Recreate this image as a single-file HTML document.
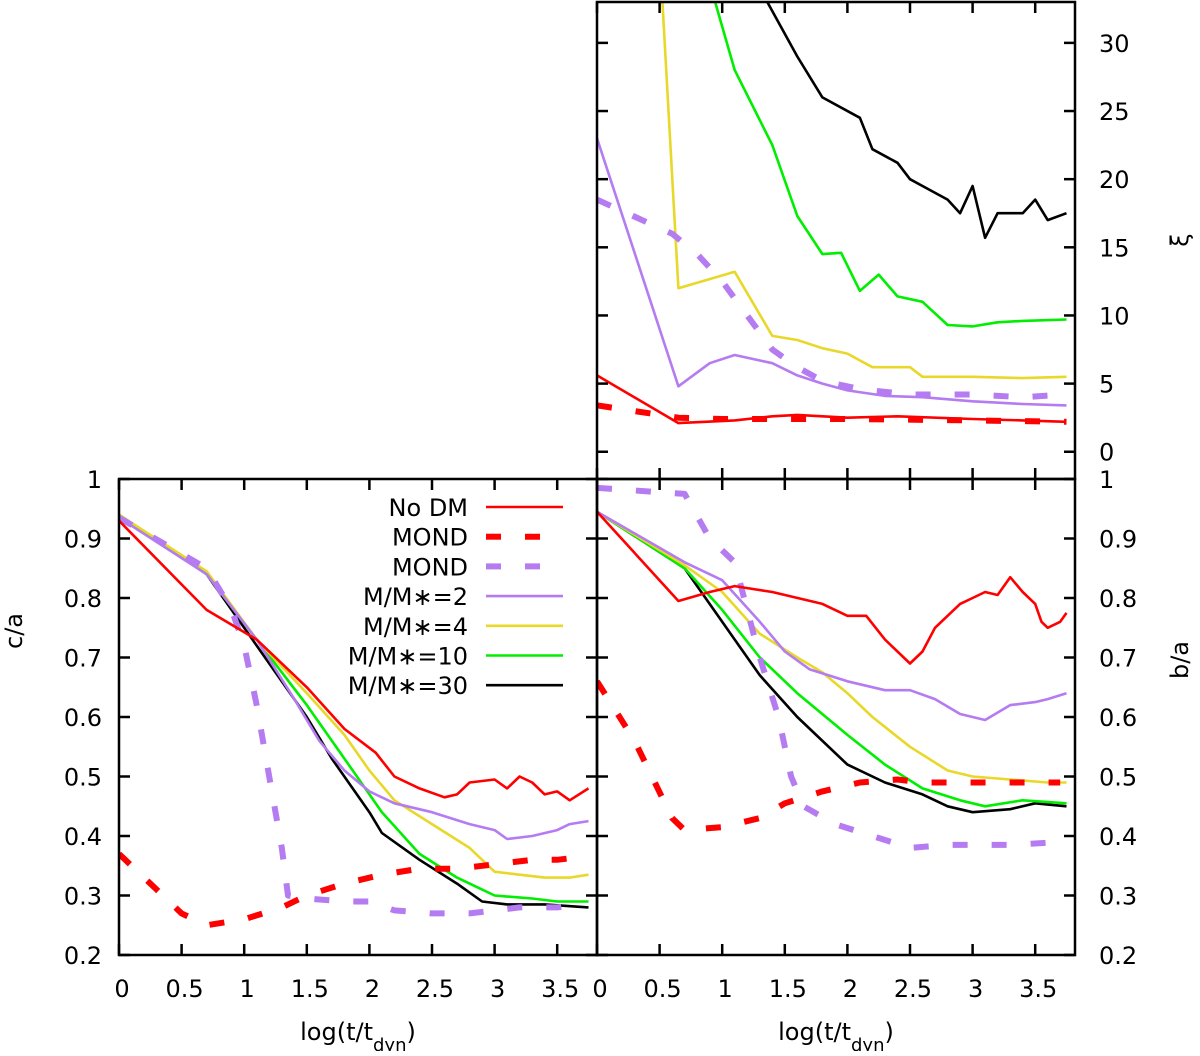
<!DOCTYPE html>
<html><head><meta charset="utf-8"><style>
body{margin:0;background:#fff}
svg text{font-family:"DejaVu Sans","Liberation Sans",sans-serif;font-size:24px;fill:#000}
</style></head><body>
<svg id="c" width="1200" height="1051" viewBox="0 0 1200 1051" xmlns="http://www.w3.org/2000/svg"></svg>
<script>
const xTicks=[0,0.5,1,1.5,2,2.5,3,3.5];
const xTickLabels=["0","0.5","1","1.5","2","2.5","3","3.5"];
const ratioTicks=[0.2,0.3,0.4,0.5,0.6,0.7,0.8,0.9,1];
const ratioTickLabels=["0.2","0.3","0.4","0.5","0.6","0.7","0.8","0.9","1"];
const xiTicks=[0,5,10,15,20,25,30];
const xiTickLabels=["0","5","10","15","20","25","30"];
const seriesNames=["No DM","MOND","MOND","M/M\u2217=2","M/M\u2217=4","M/M\u2217=10","M/M\u2217=30"];
// c/a panel
const caNoDMx=[0,0.7,1.1,1.5,1.8,2.05,2.2,2.4,2.6,2.7,2.8,3.0,3.1,3.2,3.3,3.4,3.5,3.6,3.75];
const caNoDMy=[0.93,0.78,0.73,0.65,0.58,0.54,0.5,0.48,0.465,0.47,0.49,0.495,0.48,0.5,0.49,0.47,0.475,0.46,0.48];
const caMONDx=[0,0.3,0.5,0.7,1.0,1.3,1.5,1.8,2.1,2.4,2.7,2.9,3.1,3.3,3.5,3.7];
const caMONDy=[0.37,0.31,0.27,0.25,0.26,0.28,0.3,0.32,0.335,0.345,0.345,0.35,0.355,0.36,0.36,0.365];
const caMONDPx=[0,0.7,0.9,1.0,1.1,1.2,1.3,1.35,1.5,1.8,2.0,2.2,2.5,2.8,3.0,3.2,3.5,3.7];
const caMONDPy=[0.935,0.85,0.78,0.72,0.62,0.5,0.38,0.3,0.295,0.29,0.29,0.275,0.27,0.27,0.275,0.28,0.28,0.285];
const caM2x=[0,0.7,1.1,1.4,1.6,1.8,2.0,2.2,2.5,2.8,3.0,3.1,3.3,3.5,3.6,3.75];
const caM2y=[0.935,0.84,0.73,0.63,0.56,0.51,0.475,0.455,0.44,0.42,0.41,0.395,0.4,0.41,0.42,0.425];
const caM4x=[0,0.7,1.1,1.5,1.8,2.0,2.2,2.5,2.8,3.0,3.2,3.4,3.6,3.75];
const caM4y=[0.94,0.845,0.73,0.64,0.57,0.51,0.46,0.42,0.38,0.34,0.335,0.33,0.33,0.335];
const caM10x=[0,0.7,1.1,1.5,1.8,2.1,2.4,2.7,3.0,3.3,3.5,3.75];
const caM10y=[0.94,0.84,0.73,0.62,0.53,0.44,0.37,0.33,0.3,0.295,0.29,0.29];
const caM30x=[0,0.7,1.1,1.5,1.7,2.0,2.1,2.4,2.7,2.9,3.1,3.4,3.75];
const caM30y=[0.94,0.84,0.72,0.6,0.53,0.44,0.405,0.36,0.32,0.29,0.285,0.285,0.28];
// b/a panel
const baNoDMx=[0,0.65,0.9,1.1,1.4,1.8,2.0,2.15,2.3,2.5,2.6,2.7,2.9,3.0,3.1,3.2,3.3,3.4,3.5,3.55,3.6,3.7,3.75];
const baNoDMy=[0.945,0.795,0.81,0.82,0.81,0.79,0.77,0.77,0.73,0.69,0.71,0.75,0.79,0.8,0.81,0.805,0.835,0.81,0.79,0.76,0.75,0.76,0.775];
const baMONDx=[0,0.3,0.6,0.7,1.0,1.3,1.5,1.8,2.1,2.4,2.6,2.8,3.0,3.3,3.5,3.7];
const baMONDy=[0.66,0.56,0.43,0.41,0.415,0.43,0.455,0.475,0.49,0.495,0.49,0.49,0.49,0.49,0.49,0.49];
const baMONDPx=[0,0.7,0.9,1.1,1.2,1.3,1.45,1.55,1.65,1.9,2.2,2.5,2.8,3.0,3.3,3.7];
const baMONDPy=[0.985,0.975,0.9,0.86,0.78,0.7,0.6,0.5,0.45,0.42,0.4,0.38,0.385,0.385,0.385,0.39];
const baM2x=[0,0.7,1.0,1.3,1.5,1.7,2.0,2.3,2.5,2.7,2.9,3.1,3.3,3.5,3.6,3.75];
const baM2y=[0.945,0.86,0.83,0.76,0.71,0.68,0.66,0.645,0.645,0.63,0.605,0.595,0.62,0.625,0.63,0.64];
const baM4x=[0,0.7,1.0,1.3,1.6,1.8,2.0,2.2,2.5,2.8,3.0,3.3,3.6,3.75];
const baM4y=[0.945,0.855,0.81,0.74,0.7,0.675,0.64,0.6,0.55,0.51,0.5,0.495,0.49,0.49];
const baM10x=[0,0.7,1.0,1.3,1.6,2.0,2.3,2.6,2.9,3.1,3.4,3.75];
const baM10y=[0.945,0.85,0.78,0.7,0.64,0.57,0.52,0.48,0.46,0.45,0.46,0.455];
const baM30x=[0,0.7,1.0,1.3,1.6,2.0,2.3,2.6,2.8,3.0,3.3,3.5,3.75];
const baM30y=[0.945,0.85,0.76,0.67,0.6,0.52,0.49,0.47,0.45,0.44,0.445,0.455,0.45];
// xi panel
const xiNoDMx=[0,0.65,1.1,1.4,1.6,2.0,2.4,3.0,3.4,3.75];
const xiNoDMy=[5.6,2.1,2.3,2.6,2.7,2.5,2.6,2.4,2.3,2.2];
const xiMONDx=[0,0.65,1.0,1.5,2.0,3.0,3.75];
const xiMONDy=[3.4,2.5,2.4,2.4,2.4,2.3,2.2];
const xiMONDPx=[0,0.6,0.8,1.0,1.2,1.4,1.6,1.8,2.1,2.5,3.0,3.4,3.75];
const xiMONDPy=[18.5,16,14.5,12.5,10,7.5,6.2,5.2,4.6,4.2,4.2,4.0,4.2];
const xiM2x=[0,0.65,0.9,1.1,1.4,1.6,1.8,2.0,2.3,2.6,3.0,3.4,3.75];
const xiM2y=[23,4.8,6.5,7.1,6.5,5.6,5.0,4.5,4.1,4.0,3.7,3.5,3.4];
const xiM4x=[0.45,0.65,1.1,1.4,1.6,1.8,2.0,2.2,2.5,2.6,3.0,3.4,3.75];
const xiM4y=[45,12,13.2,8.5,8.2,7.6,7.2,6.2,6.2,5.5,5.5,5.4,5.5];
const xiM10x=[0.85,1.1,1.4,1.6,1.8,1.95,2.1,2.25,2.4,2.6,2.8,3.0,3.2,3.4,3.75];
const xiM10y=[36,28,22.5,17.3,14.5,14.6,11.8,13,11.4,11,9.3,9.2,9.5,9.6,9.7];
const xiM30x=[1.3,1.6,1.8,2.1,2.2,2.4,2.5,2.6,2.8,2.9,3.0,3.1,3.2,3.4,3.5,3.6,3.75];
const xiM30y=[34,29,26,24.5,22.2,21.2,20,19.5,18.5,17.5,19.5,15.7,17.5,17.5,18.5,17,17.5];

const svg=document.getElementById('c');
const NS="http://www.w3.org/2000/svg";
function mk(tag,attrs,parent){const e=document.createElementNS(NS,tag);for(const k in attrs)e.setAttribute(k,attrs[k]);(parent||svg).appendChild(e);return e;}
const XS=125.2;
function xL(v){return 119+v*XS;}
function xR(v){return 597+v*XS;}
function yR(v){return 955-(v-0.2)*(476/0.8);}
function yXi(v){return 479-(v+2)*(477/35);}
const colors=["#ff0000","#ff0000","#b57bf0","#b57bf0","#e8d82a","#00ee00","#000000"];
const widths=[2.6,6,6,2.6,2.6,2.6,2.6];
const dashed=[false,true,true,false,false,false,false];
const keys=["no-dm","mond-red","mond-purple","m2","m4","m10","m30"];
function defClip(id,x,y,w,h){const cp=mk('clipPath',{id:id});mk('rect',{x:x,y:y,width:w,height:h},cp);}
defClip('cl',119,479,478,476);defClip('cr',597,479,478,476);defClip('ct',597,2,478,477);
function drawSeries(xs,ys,fx,fy,i,clip,name){
  let d='';for(let k=0;k<xs.length;k++)d+=(k?'L':'M')+fx(xs[k]).toFixed(1)+','+fy(ys[k]).toFixed(1);
  const p=mk('path',{d:d,fill:'none',stroke:colors[i],'stroke-width':widths[i],'clip-path':'url(#'+clip+')','stroke-linejoin':'round'});
  if(dashed[i])p.setAttribute('stroke-dasharray','15 24');
  
  
}
const caX=[caNoDMx,caMONDx,caMONDPx,caM2x,caM4x,caM10x,caM30x],caY=[caNoDMy,caMONDy,caMONDPy,caM2y,caM4y,caM10y,caM30y];
const baX=[baNoDMx,baMONDx,baMONDPx,baM2x,baM4x,baM10x,baM30x],baY=[baNoDMy,baMONDy,baMONDPy,baM2y,baM4y,baM10y,baM30y];
const xiX=[xiNoDMx,xiMONDx,xiMONDPx,xiM2x,xiM4x,xiM10x,xiM30x],xiY=[xiNoDMy,xiMONDy,xiMONDPy,xiM2y,xiM4y,xiM10y,xiM30y];
for(let i=6;i>=0;i--){
  drawSeries(caX[i],caY[i],xL,yR,i,'cl','ca-line-'+keys[i]);
  drawSeries(baX[i],baY[i],xR,yR,i,'cr','ba-line-'+keys[i]);
  drawSeries(xiX[i],xiY[i],xR,yXi,i,'ct','xi-line-'+keys[i]);
}
function frame(x,y,w,h,name){const r=mk('rect',{x:x,y:y,width:w,height:h,fill:'none',stroke:'#000','stroke-width':2.5});}
frame(119,479,478,476,'ca-panel-frame');frame(597,479,478,476,'ba-panel-frame');frame(597,2,478,477,'xi-panel-frame');
function tick(x1,y1,x2,y2){mk('line',{x1:x1,y1:y1,x2:x2,y2:y2,stroke:'#000','stroke-width':2.5});}
function text(x,y,s,anchor,name){const t=mk('text',{x:x,y:y,'text-anchor':anchor});t.textContent=s;return t;}
const TL=11;
xTicks.forEach((v,k)=>{
  [xL,xR].forEach((f,pi)=>{
    const x=f(v);tick(x,955,x,955-TL);tick(x,479,x,479+TL);
    text(x+3,997,xTickLabels[k],'middle',(pi?'ba':'ca')+'-x-tick-label');
  });
  const x=xR(v);tick(x,2,x,2+TL);tick(x,479,x,479-TL);
});
ratioTicks.forEach((v,k)=>{
  const y=yR(v);
  tick(119,y,119+TL,y);tick(597,y,597-TL,y);tick(597,y,597+TL,y);tick(1075,y,1075-TL,y);
  text(102,y+9,ratioTickLabels[k],'end','ca-y-tick-label');
  text(1099,y+9,ratioTickLabels[k],'start','ba-y-tick-label');
});
xiTicks.forEach((v,k)=>{
  const y=yXi(v);tick(597,y,597+TL,y);tick(1075,y,1075-TL,y);
  text(1099,y+9,xiTickLabels[k],'start','xi-y-tick-label');
});
function xtitle(cx,name){const t=mk('text',{x:cx,y:1040,'text-anchor':'middle'});t.innerHTML='log(t/t<tspan baseline-shift="sub" font-size="18">dyn</tspan>)';}
xtitle(358,'ca-x-axis-title');xtitle(836,'ba-x-axis-title');
const ca=text(0,0,'c/a','middle','ca-y-axis-title');ca.setAttribute('transform','translate(22,631) rotate(-90)');
const ba=text(0,0,'b/a','middle','ba-y-axis-title');ba.setAttribute('transform','translate(1188,660) rotate(-90)');
const xi=text(0,0,'\u03be','middle','xi-y-axis-title');xi.setAttribute('transform','translate(1188,240) rotate(-90)');
const lg=mk('g',{});
for(let i=0;i<7;i++){
  const y=507+i*29.7;
  const t=mk('text',{x:468,y:y+9,'text-anchor':'end'},lg);t.textContent=seriesNames[i];
  
  
  const l=mk('line',{x1:486,y1:y,x2:563,y2:y,stroke:colors[i],'stroke-width':widths[i]},lg);
  if(dashed[i])l.setAttribute('stroke-dasharray','15 24');
  
  
}
</script>
</body></html>
